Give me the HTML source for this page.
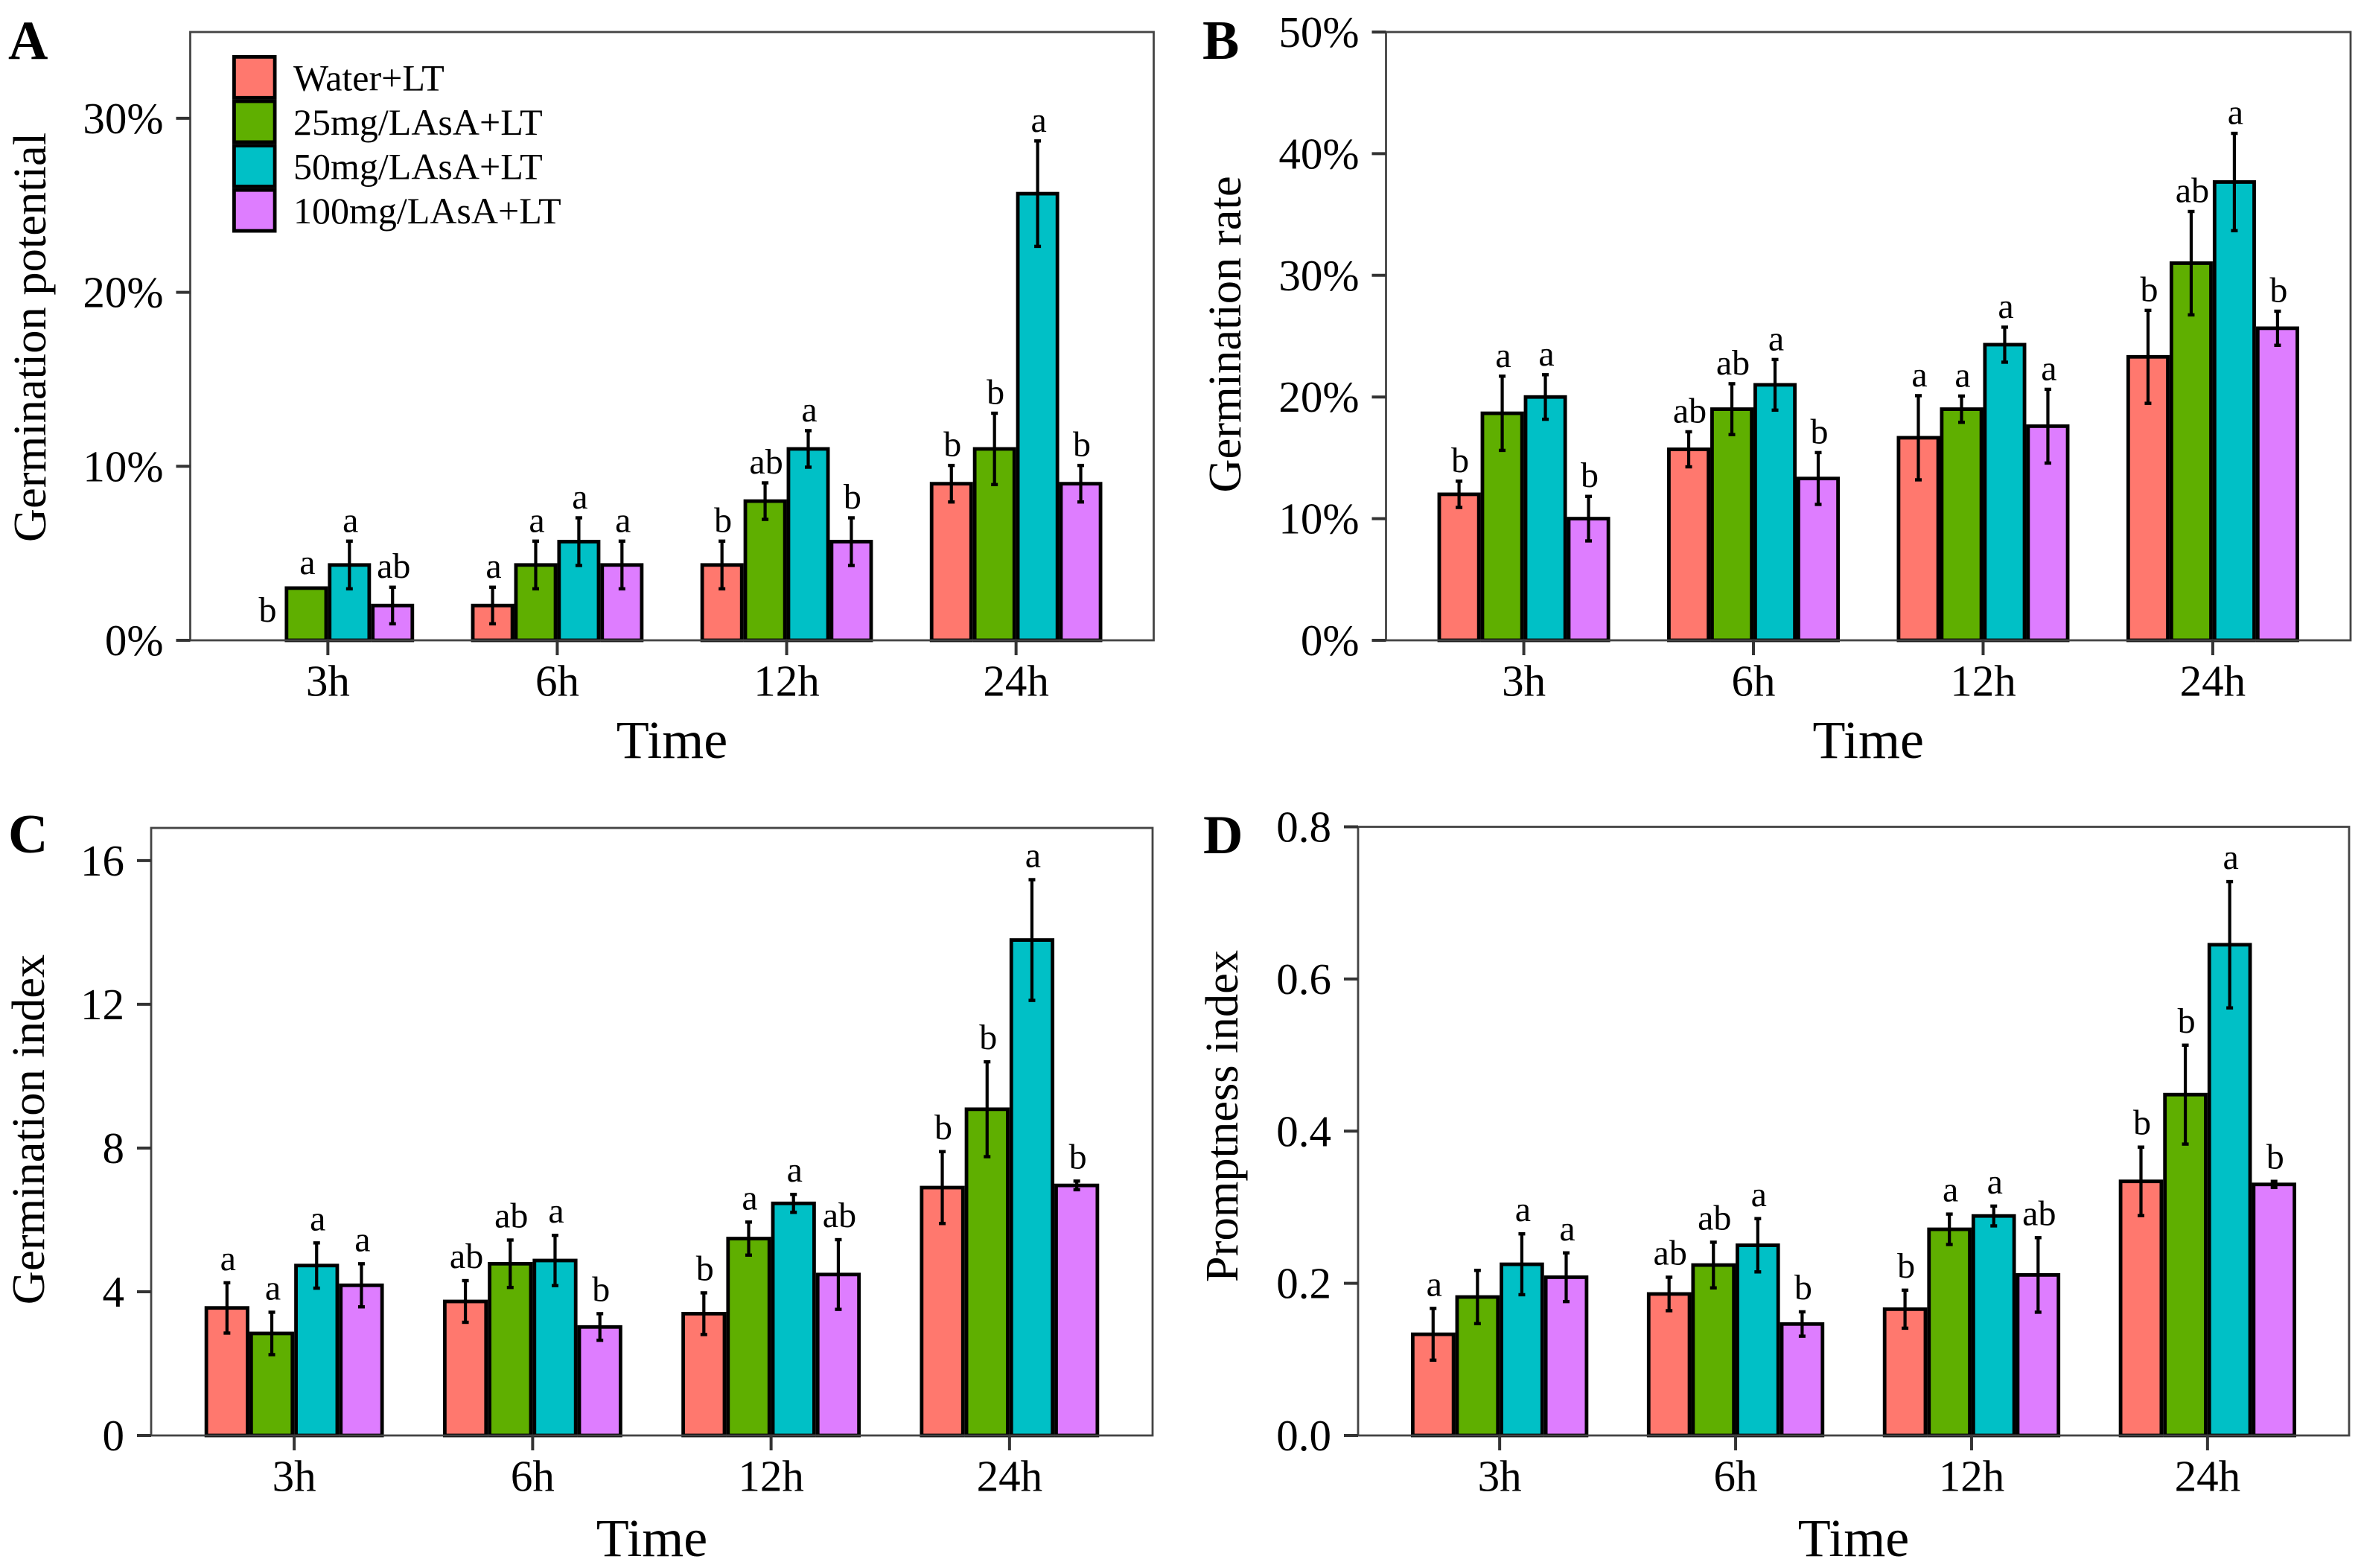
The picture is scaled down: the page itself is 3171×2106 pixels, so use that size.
<!DOCTYPE html>
<html lang="en">
<head>
<meta charset="utf-8">
<title>Germination charts</title>
<style>
html,body{margin:0;padding:0;background:#fff;}
svg{display:block;}
text{font-family:"Liberation Serif","Times New Roman",serif;fill:#000;}
</style>
</head>
<body>
<svg id="chart" xmlns="http://www.w3.org/2000/svg" width="3171" height="2106" viewBox="0 0 3171 2106"></svg>
<script>
const categories = ['3h', '6h', '12h', '24h'];
const seriesNames = ['Water+LT', '25mg/LAsA+LT', '50mg/LAsA+LT', '100mg/LAsA+LT'];
const seriesSlugs = ['water', 'asa-25', 'asa-50', 'asa-100'];
const seriesColors = ['#FF786E', '#5FAF00', '#00C0C6', '#DE7DFF'];

const aTickValues = [0, 10, 20, 30];
const aTickLabels = ['0%', '10%', '20%', '30%'];
const aWater = [0, 2, 4.33, 9];
const a25 = [3, 4.33, 8, 11];
const a50 = [4.33, 5.67, 11, 25.67];
const a100 = [2, 4.33, 5.67, 9];
const aWaterErr = [0, 1.05, 1.37, 1.05];
const a25Err = [0, 1.37, 1.05, 2.05];
const a50Err = [1.37, 1.37, 1.05, 3.03];
const a100Err = [1.05, 1.37, 1.37, 1.05];
const aWaterSig = ['b', 'a', 'b', 'b'];
const a25Sig = ['a', 'a', 'ab', 'b'];
const a50Sig = ['a', 'a', 'a', 'a'];
const a100Sig = ['ab', 'a', 'b', 'b'];

const bTickValues = [0, 10, 20, 30, 40, 50];
const bTickLabels = ['0%', '10%', '20%', '30%', '40%', '50%'];
const bWater = [12, 15.7, 16.65, 23.3];
const b25 = [18.66, 19, 19, 31];
const b50 = [20, 21, 24.3, 37.67];
const b100 = [10, 13.3, 17.6, 25.65];
const bWaterErr = [1.08, 1.44, 3.46, 3.82];
const b25Err = [3.05, 2.09, 1.08, 4.25];
const b50Err = [1.83, 2.08, 1.44, 4.0];
const b100Err = [1.83, 2.13, 3.03, 1.4];
const bWaterSig = ['b', 'ab', 'a', 'b'];
const b25Sig = ['a', 'ab', 'a', 'ab'];
const b50Sig = ['a', 'a', 'a', 'a'];
const b100Sig = ['b', 'b', 'a', 'b'];

const cTickValues = [0, 4, 8, 12, 16];
const cTickLabels = ['0', '4', '8', '12', '16'];
const cWater = [3.55, 3.73, 3.39, 6.9];
const c25 = [2.84, 4.78, 5.48, 9.08];
const c50 = [4.73, 4.87, 6.46, 13.79];
const c100 = [4.18, 3.02, 4.48, 6.96];
const cWaterErr = [0.7, 0.58, 0.58, 1.0];
const c25Err = [0.59, 0.66, 0.46, 1.32];
const c50Err = [0.63, 0.7, 0.25, 1.68];
const c100Err = [0.6, 0.37, 0.97, 0.12];
const cWaterSig = ['a', 'ab', 'b', 'b'];
const c25Sig = ['a', 'ab', 'a', 'b'];
const c50Sig = ['a', 'a', 'a', 'a'];
const c100Sig = ['a', 'b', 'ab', 'b'];

const dTickValues = [0, 0.2, 0.4, 0.6, 0.8];
const dTickLabels = ['0.0', '0.2', '0.4', '0.6', '0.8'];
const dWater = [0.133, 0.186, 0.166, 0.334];
const d25 = [0.182, 0.224, 0.271, 0.448];
const d50 = [0.225, 0.25, 0.2885, 0.645];
const d100 = [0.208, 0.1465, 0.211, 0.33];
const dWaterErr = [0.034, 0.022, 0.025, 0.045];
const d25Err = [0.035, 0.03, 0.02, 0.065];
const d50Err = [0.04, 0.035, 0.013, 0.083];
const d100Err = [0.032, 0.016, 0.049, 0.004];
const dWaterSig = ['a', 'ab', 'b', 'b'];
const d25Sig = ['', 'ab', 'a', 'b'];
const d50Sig = ['a', 'a', 'a', 'a'];
const d100Sig = ['a', 'b', 'ab', 'b'];

const svg = document.getElementById('chart');
const NS = 'http://www.w3.org/2000/svg';

function make(parent, tag, attrs, content) {
  const el = document.createElementNS(NS, tag);
  for (const k in attrs) el.setAttribute(k, attrs[k]);
  if (content !== undefined) el.textContent = content;
  parent.appendChild(el);
  return el;
}

function drawPanel(p) {
  const group = make(svg, 'g', {});
  
  

  const step = (p.right - p.left) / (categories.length - 1 + 1.2);
  const pitch = step * 0.752 / seriesNames.length;
  const strokeW = 4.8;
  const xBand = function (i) { return p.left + step * (0.6 + i); };
  const xBar = function (i, s) { return xBand(i) + (s - 1.5) * pitch; };
  const yScale = function (v) { return p.bottom - (v / p.domainMax) * (p.bottom - p.top); };

  // Bars
  seriesNames.forEach(function (name, s) {
    categories.forEach(function (cat, i) {
      const v = p.values[s][i];
      if (v <= 0) return;
      const r = make(group, 'rect', {
        x: xBar(i, s) - (pitch - strokeW) / 2,
        y: yScale(v),
        width: pitch - strokeW,
        height: p.bottom - yScale(v),
        fill: seriesColors[s],
        stroke: '#000',
        'stroke-width': strokeW
      });
      
      
    });
  });

  // Error bars
  seriesNames.forEach(function (name, s) {
    categories.forEach(function (cat, i) {
      const v = p.values[s][i];
      const e = p.errors[s][i];
      if (e <= 0) return;
      const g = make(group, 'g', { stroke: '#000', fill: 'none' });
      
      
      const cx = xBar(i, s);
      make(g, 'line', { x1: cx, x2: cx, y1: yScale(v + e), y2: yScale(v - e), 'stroke-width': 4.2 });
      make(g, 'line', { x1: cx - 4.5, x2: cx + 4.5, y1: yScale(v + e), y2: yScale(v + e), 'stroke-width': 4.4 });
      make(g, 'line', { x1: cx - 4.5, x2: cx + 4.5, y1: yScale(v - e), y2: yScale(v - e), 'stroke-width': 4.4 });
    });
  });

  // Frame
  const frame = make(group, 'rect', {
    x: p.left, y: p.top, width: p.right - p.left, height: p.bottom - p.top,
    fill: 'none', stroke: '#444', 'stroke-width': 2.8
  });
  
  

  // Significance letters
  seriesNames.forEach(function (name, s) {
    categories.forEach(function (cat, i) {
      const letter = p.letters[s][i];
      if (!letter) return;
      const v = p.values[s][i];
      const e = p.errors[s][i];
      const gap = e > 0 ? p.letterGap : (v > 0 ? 19 : 25);
      const t = make(group, 'text', {
        x: xBar(i, s) + (v > 0 ? 1.5 : 6),
        y: yScale(v + e) - gap,
        'font-size': 48,
        'text-anchor': 'middle'
      }, letter);
      
      
    });
  });

  // Y axis
  p.tickValues.forEach(function (tv, i) {
    const tk = make(group, 'line', {
      x1: p.left - 19, x2: p.left, y1: yScale(tv), y2: yScale(tv),
      stroke: '#333', 'stroke-width': 4
    });
    
    
    const lb = make(group, 'text', {
      x: p.left - 36, y: yScale(tv) + 20, 'font-size': 59, 'text-anchor': 'end'
    }, p.tickLabels[i]);
    
    
  });

  // X axis
  categories.forEach(function (cat, i) {
    const tk = make(group, 'line', {
      x1: xBand(i), x2: xBand(i), y1: p.bottom, y2: p.bottom + 20,
      stroke: '#333', 'stroke-width': 4
    });
    
    
    const lb = make(group, 'text', {
      x: xBand(i), y: p.bottom + 74.5, 'font-size': 59, 'text-anchor': 'middle'
    }, cat);
    
    
  });

  // Titles
  const xt = make(group, 'text', {
    x: (p.left + p.right) / 2, y: p.bottom + p.xTitleGap, 'font-size': 72, 'text-anchor': 'middle'
  }, 'Time');
  
  

  const yt = make(group, 'text', {
    transform: 'translate(' + p.yTitleX + ',' + p.yTitleY + ') rotate(-90)',
    'font-size': p.yTitleSize, 'text-anchor': 'middle'
  }, p.yTitle);
  
  

  const tag = make(group, 'text', {
    x: p.tagX, y: p.tagY, 'font-size': 74, 'font-weight': 'bold'
  }, p.tag);
  
  
}

drawPanel({
  key: 'a', tag: 'A', tagX: 11, tagY: 79,
  left: 255.5, right: 1549.5, top: 43, bottom: 860, domainMax: 34.96,
  tickValues: aTickValues, tickLabels: aTickLabels,
  values: [aWater, a25, a50, a100],
  errors: [aWaterErr, a25Err, a50Err, a100Err],
  letters: [aWaterSig, a25Sig, a50Sig, a100Sig],
  letterGap: 12.5, xTitleGap: 158,
  yTitle: 'Germination potential', yTitleX: 61, yTitleY: 453, yTitleSize: 62.5
});
drawPanel({
  key: 'b', tag: 'B', tagX: 1615, tagY: 79,
  left: 1861.5, right: 3157, top: 43, bottom: 860, domainMax: 50,
  tickValues: bTickValues, tickLabels: bTickLabels,
  values: [bWater, b25, b50, b100],
  errors: [bWaterErr, b25Err, b50Err, b100Err],
  letters: [bWaterSig, b25Sig, b50Sig, b100Sig],
  letterGap: 12.5, xTitleGap: 158,
  yTitle: 'Germination rate', yTitleX: 1666, yTitleY: 449, yTitleSize: 62.5
});
drawPanel({
  key: 'c', tag: 'C', tagX: 11, tagY: 1145,
  left: 203, right: 1548, top: 1112, bottom: 1928, domainMax: 16.91,
  tickValues: cTickValues, tickLabels: cTickLabels,
  values: [cWater, c25, c50, c100],
  errors: [cWaterErr, c25Err, c50Err, c100Err],
  letters: [cWaterSig, c25Sig, c50Sig, c100Sig],
  letterGap: 17, xTitleGap: 162,
  yTitle: 'Germination index', yTitleX: 59, yTitleY: 1517, yTitleSize: 62.5
});
drawPanel({
  key: 'd', tag: 'D', tagX: 1616, tagY: 1146,
  left: 1824, right: 3155, top: 1110.5, bottom: 1928, domainMax: 0.8,
  tickValues: dTickValues, tickLabels: dTickLabels,
  values: [dWater, d25, d50, d100],
  errors: [dWaterErr, d25Err, d50Err, d100Err],
  letters: [dWaterSig, d25Sig, d50Sig, d100Sig],
  letterGap: 17, xTitleGap: 162,
  yTitle: 'Promptness index', yTitleX: 1662, yTitleY: 1499, yTitleSize: 62.5
});

// Legend
const legend = make(svg, 'g', {});


seriesNames.forEach(function (name, s) {
  const entry = make(legend, 'g', {});
  
  
  const key = make(entry, 'rect', {
    x: 314.4, y: 76.4 + s * 59.6, width: 54.7, height: 54.9,
    fill: seriesColors[s], stroke: '#000', 'stroke-width': 4.8
  });
  
  
  const lab = make(entry, 'text', { x: 394, y: 121.7 + s * 59.4, 'font-size': 50 }, name);
  
  
});
</script>
</body>
</html>
